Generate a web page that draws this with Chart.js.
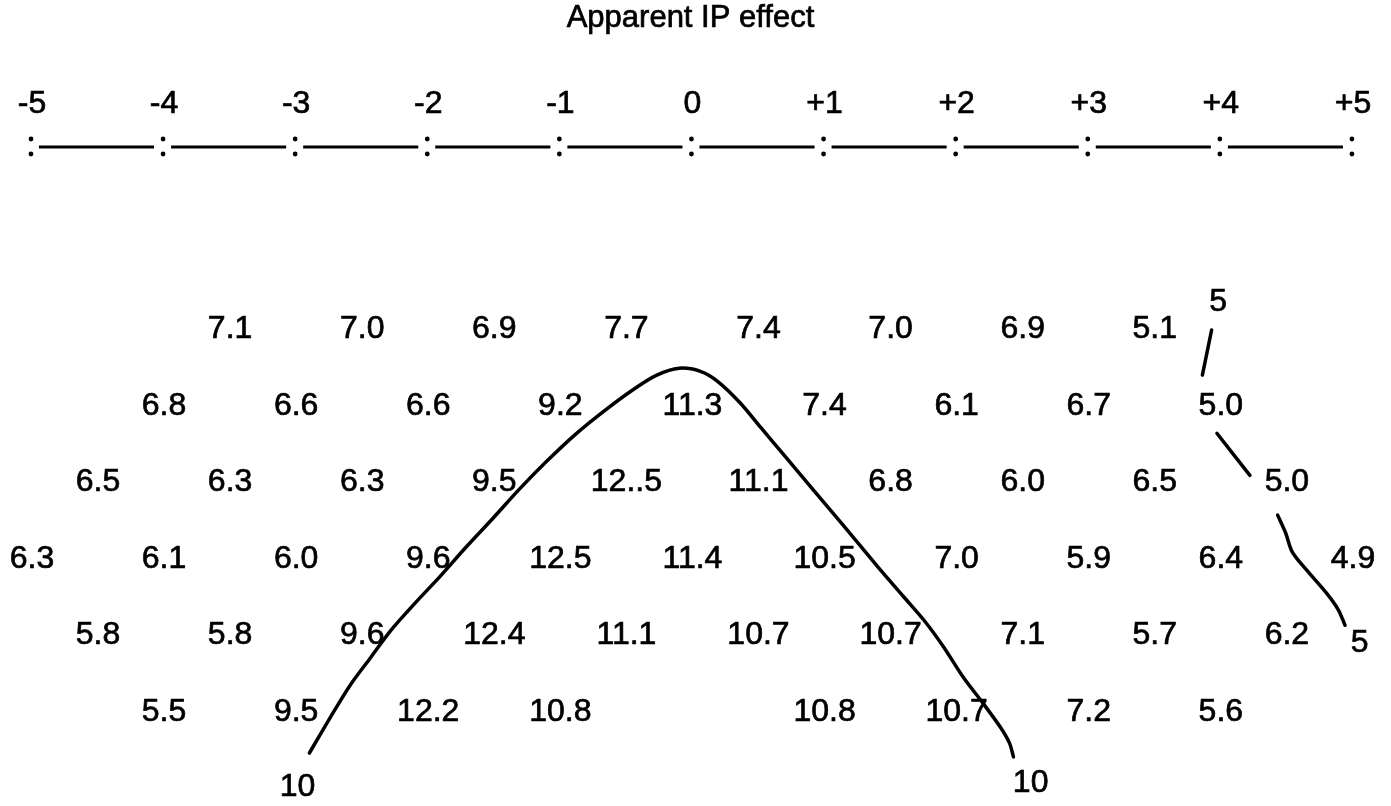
<!DOCTYPE html>
<html>
<head>
<meta charset="utf-8">
<title>Apparent IP effect</title>
<script src="https://cdn.jsdelivr.net/npm/chart.js@4/dist/chart.umd.min.js"></script>
<style>
  html, body { margin: 0; padding: 0; background: #ffffff; }
  #wrap { width: 1391px; height: 806px; position: relative; }
</style>
</head>
<body>
<div id="wrap"><canvas id="section"></canvas></div>
<script>
// ---- pseudosection data -------------------------------------------------
const chartTitle = 'Apparent IP effect';

// dipole separation ticks along the top
const tickValues = [-5, -4, -3, -2, -1, 0, 1, 2, 3, 4, 5];
const tickLabels = ['-5', '-4', '-3', '-2', '-1', '0', '+1', '+2', '+3', '+4', '+5'];

// apparent IP readings per level n, as printed (null = no reading)
const level1 = ['7.1', '7.0', '6.9', '7.7', '7.4', '7.0', '6.9', '5.1'];
const level2 = ['6.8', '6.6', '6.6', '9.2', '11.3', '7.4', '6.1', '6.7', '5.0'];
const level3 = ['6.5', '6.3', '6.3', '9.5', '12..5', '11.1', '6.8', '6.0', '6.5', '5.0'];
const level4 = ['6.3', '6.1', '6.0', '9.6', '12.5', '11.4', '10.5', '7.0', '5.9', '6.4', '4.9'];
const level5 = ['5.8', '5.8', '9.6', '12.4', '11.1', '10.7', '10.7', '7.1', '5.7', '6.2'];
const level6 = ['5.5', '9.5', '12.2', '10.8', null, '10.8', '10.7', '7.2', '5.6'];
const levels = [level1, level2, level3, level4, level5, level6];
// midpoint of the first reading on each level
const levelStart = [-3.5, -4, -4.5, -5, -4.5, -4];

// contour traces, [midpoint, level]
const contour10 = [
  [-2.90, 6.54], [-2.74, 6.07], [-2.59, 5.65], [-2.44, 5.30], [-2.28, 4.93],
  [-2.10, 4.58], [-1.91, 4.23], [-1.72, 3.86], [-1.51, 3.47], [-1.31, 3.09],
  [-1.10, 2.72], [-0.89, 2.38], [-0.67, 2.07], [-0.45, 1.79], [-0.27, 1.60],
  [-0.10, 1.51], [0.06, 1.55], [0.19, 1.68], [0.36, 1.96], [0.52, 2.29],
  [0.70, 2.66], [0.90, 3.07], [1.15, 3.58], [1.40, 4.10], [1.60, 4.50],
  [1.76, 4.82], [1.90, 5.15], [2.05, 5.55], [2.20, 5.89], [2.33, 6.20],
  [2.40, 6.41], [2.43, 6.59]
];
const contour5a = [[3.93, 1.01], [3.86, 1.60]];
const contour5b = [[3.97, 2.36], [4.22, 2.91]];
const contour5c = [[4.43, 3.43], [4.49, 3.66], [4.54, 3.91], [4.65, 4.15], [4.80, 4.45], [4.89, 4.67], [4.94, 4.87]];

// contour value labels
const contourLabelText = ['10', '10', '5', '5'];
const contourLabelX = [-2.99, 2.56, 3.98, 5.05];
const contourLabelY = [6.98, 6.93, 0.64, 5.10];

// ---- build datasets -----------------------------------------------------
const readingPoints = [];
levels.forEach((row, i) => {
  row.forEach((txt, j) => {
    if (txt !== null) readingPoints.push({ x: levelStart[i] + j, y: i + 1, label: txt });
  });
});
const contourLabelPoints = contourLabelText.map((t, i) => ({ x: contourLabelX[i], y: contourLabelY[i], label: t }));
const toXY = arr => arr.map(p => ({ x: p[0], y: p[1] }));

const FONT = "'Liberation Sans', Arial, Helvetica, sans-serif";

function contourSet(points) {
  return {
    type: 'line',
    data: toXY(points),
    showLine: true,
    borderColor: '#000000',
    borderWidth: 3.5,
    borderCapStyle: 'round',
    borderJoinStyle: 'round',
    pointRadius: 0,
    tension: 0.3,
    fill: false
  };
}

// slightly heavy text, like a photocopied print
function inkText(ctx, txt, x, y) {
  ctx.fillText(txt, x, y);
  ctx.strokeText(txt, x, y);
}

// draws text labels for datasets flagged textLabels, plus title and separation bar
const sectionText = {
  id: 'sectionText',
  afterDatasetsDraw(chart) {
    const ctx = chart.ctx;
    ctx.save();
    ctx.fillStyle = '#000000';
    ctx.strokeStyle = '#000000';
    ctx.lineWidth = 0.7;
    ctx.textAlign = 'center';
    ctx.textBaseline = 'middle';
    ctx.font = '32px ' + FONT;
    chart.data.datasets.forEach((ds, di) => {
      if (!ds.textLabels) return;
      const meta = chart.getDatasetMeta(di);
      meta.data.forEach((el, i) => {
        inkText(ctx, ds.data[i].label, el.x, el.y);
      });
    });
    ctx.restore();
  },
  afterDraw(chart) {
    const ctx = chart.ctx;
    const xs = chart.scales.x;
    ctx.save();
    ctx.fillStyle = '#000000';
    ctx.strokeStyle = '#000000';
    ctx.textAlign = 'center';
    ctx.textBaseline = 'middle';
    ctx.lineWidth = 0.7;

    ctx.font = '31px ' + FONT;
    inkText(ctx, chartTitle, xs.getPixelForValue(0) - 2, 18);

    ctx.font = '32px ' + FONT;
    const px = tickValues.map(v => xs.getPixelForValue(v));
    px.forEach((p, i) => {
      ctx.lineWidth = 0.7;
      inkText(ctx, tickLabels[i], p, 104);
      ctx.beginPath();
      ctx.arc(p - 1, 139, 2.4, 0, Math.PI * 2);
      ctx.arc(p - 1, 154, 2.4, 0, Math.PI * 2);
      ctx.fill();
      if (i < px.length - 1) {
        ctx.beginPath();
        ctx.lineWidth = 3;
        ctx.moveTo(p + 7, 147);
        ctx.lineTo(px[i + 1] - 10, 147);
        ctx.stroke();
      }
    });
    ctx.restore();
  }
};

new Chart(document.getElementById('section'), {
  type: 'scatter',
  data: {
    datasets: [
      { data: readingPoints, pointRadius: 0, textLabels: true },
      { data: contourLabelPoints, pointRadius: 0, textLabels: true },
      contourSet(contour10),
      contourSet(contour5a),
      contourSet(contour5b),
      contourSet(contour5c)
    ]
  },
  options: {
    responsive: true,
    maintainAspectRatio: false,
    animation: false,
    layout: { padding: 0 },
    scales: {
      x: { type: 'linear', min: -5.242, max: 5.288, display: false },
      y: { type: 'linear', reverse: true, min: -3.304, max: 7.232, display: false }
    },
    plugins: {
      legend: { display: false },
      tooltip: { enabled: false }
    }
  },
  plugins: [sectionText]
});
</script>
</body>
</html>
